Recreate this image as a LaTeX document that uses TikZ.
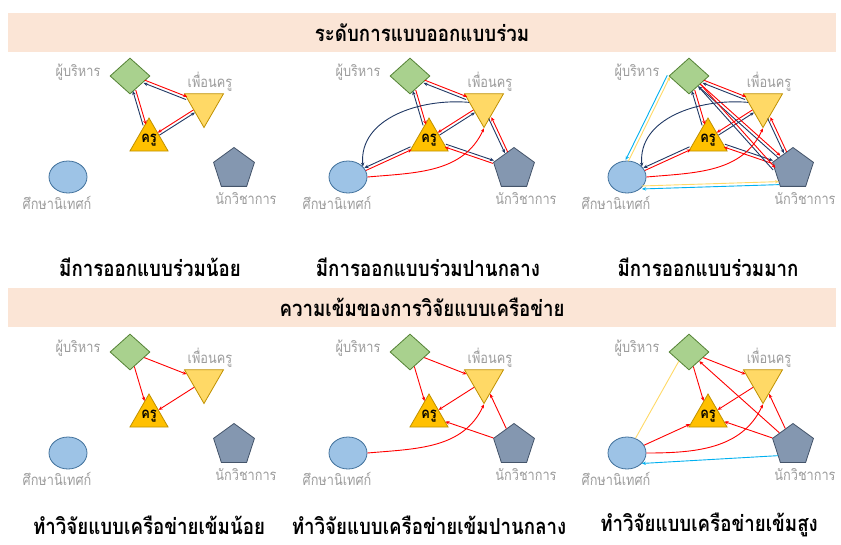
\documentclass[tikz,border=0pt]{standalone}
\usepackage{fontspec}
\newfontfamily\thaifont[Script=Thai, FakeStretch=0.85]{Loma}
\usetikzlibrary{arrows.meta, positioning, shapes.geometric, calc}

\definecolor{bandfill}{HTML}{FBE5D6}
\definecolor{adminfill}{HTML}{A9D18E}
\definecolor{adminline}{HTML}{548235}
\definecolor{peerfill}{HTML}{FFD966}
\definecolor{peerline}{HTML}{BF9000}
\definecolor{teacherfill}{HTML}{FFC000}
\definecolor{superfill}{HTML}{9DC3E6}
\definecolor{superline}{HTML}{41719C}
\definecolor{acadfill}{HTML}{8497B0}
\definecolor{acadline}{HTML}{44546A}
\definecolor{labelgray}{HTML}{9C9C9C}
\definecolor{arrowred}{HTML}{FF0000}
\definecolor{arrownavy}{HTML}{203864}
\definecolor{arrowcyan}{HTML}{00B0F0}
\definecolor{arrowgold}{HTML}{FFD966}

\tikzset{
    >=Stealth,
    net_admin/.style={
        diamond,
        draw=adminline,
        fill=adminfill,
        line width=0.8pt,
        minimum width=40pt,
        minimum height=36pt,
        inner sep=0pt
    },
    net_peer/.style={
        regular polygon,
        regular polygon sides=3,
        shape border rotate=180,
        draw=peerline,
        fill=peerfill,
        line width=0.8pt,
        minimum size=45pt,
        inner sep=0pt
    },
    net_teacher/.style={
        regular polygon,
        regular polygon sides=3,
        draw=peerline,
        fill=teacherfill,
        line width=0.8pt,
        minimum size=44pt,
        inner sep=0pt
    },
    net_super/.style={
        ellipse,
        draw=superline,
        fill=superfill,
        line width=0.8pt,
        minimum width=38pt,
        minimum height=32pt,
        inner sep=0pt
    },
    net_acad/.style={
        regular polygon,
        regular polygon sides=5,
        draw=acadline,
        fill=acadfill,
        line width=0.8pt,
        minimum size=43pt,
        inner sep=0pt
    },
    net_label/.style={
        font=\thaifont\fontsize{15}{17}\selectfont,
        text=labelgray,
        inner sep=1pt
    },
    teacher_text/.style={
        font=\thaifont\bfseries\fontsize{15}{17}\selectfont,
        inner sep=0pt
    },
    go_red/.style={
        draw=arrowred,
        line width=0.9pt,
        -{Stealth[length=4pt, width=3.5pt]}
    },
    back_navy/.style={
        draw=arrownavy,
        line width=0.9pt,
        -{Stealth[length=4pt, width=3.5pt]}
    },
    link_cyan/.style={
        draw=arrowcyan,
        line width=0.9pt,
        -{Stealth[length=4pt, width=3.5pt]}
    },
    link_gold/.style={
        draw=arrowgold,
        line width=0.9pt,
        -{Stealth[length=4pt, width=3.5pt]}
    },
    plain_gold/.style={
        draw=arrowgold,
        line width=0.9pt
    },
    head_band/.style={
        rectangle,
        fill=bandfill,
        minimum width=828pt,
        minimum height=39pt,
        font=\thaifont\bfseries\fontsize{22}{24}\selectfont
    },
    caption_text/.style={
        font=\thaifont\bfseries\fontsize{22}{24}\selectfont
    }
}

% five actors of one panel: prefix, x offset, y offset
\newcommand{\netnodes}[3]{
    \begin{scope}[shift={(#2,#3)}]
        \node[net_admin] (#1Admin) at (130,-76) {};
        \node[net_peer] (#1Peer) at (204,-105) {};
        \node[net_teacher] (#1Teacher) at (149,-140) {};
        \node[teacher_text] (#1TeacherTxt) at (#1Teacher) {ครู};
        \node[net_super] (#1Super) at (68,-177) {};
        \node[net_acad] (#1Acad) at (234,-169) {};
        \node[net_label, left=8pt of #1Admin, yshift=4pt] (#1AdminTxt) {ผู้บริหาร};
        \node[net_label, above=1pt of #1Peer, xshift=6pt] (#1PeerTxt) {เพื่อนครู};
        \node[net_label, below=2pt of #1Super, xshift=-11pt] (#1SuperTxt) {ศึกษานิเทศก์};
        \node[net_label, below=4pt of #1Acad, xshift=12pt] (#1AcadTxt) {นักวิชาการ};
    \end{scope}
}

% two parallel links: from, to, style there, style back, offset there, offset back
\newcommand{\twoway}[6]{
    \draw[#3, transform canvas={shift={($(#1)!#5!90:(#2)-(#1)$)}}] (#1) -- (#2);
    \draw[#4, transform canvas={shift={($(#1)!#6!90:(#2)-(#1)$)}}] (#2) -- (#1);
}

\begin{document}
\begin{tikzpicture}[x=1pt, y=1pt]
\useasboundingbox (0,0) rectangle (841,-544);

% --- Headers ---
\node[head_band] (topBand) at (422,-32.5) {ระดับการแบบออกแบบร่วม};
\node[head_band] (lowBand) at (422,-307.5) {ความเข้มของการวิจัยแบบเครือข่าย};

% --- Panels ---
\netnodes{a}{0}{0}
\netnodes{b}{280}{0}
\netnodes{c}{559}{0}
\netnodes{d}{0}{-276}
\netnodes{e}{280}{-276}
\netnodes{f}{559}{-276}

% --- Captions ---
\node[caption_text] (capA) at (150,-267) {มีการออกแบบร่วมน้อย};
\node[caption_text] (capB) at (428,-267) {มีการออกแบบร่วมปานกลาง};
\node[caption_text] (capC) at (708,-267) {มีการออกแบบร่วมมาก};
\node[caption_text] (capD) at (149,-525) {ทำวิจัยแบบเครือข่ายเข้มน้อย};
\node[caption_text] (capE) at (429,-525) {ทำวิจัยแบบเครือข่ายเข้มปานกลาง};
\node[caption_text] (capF) at (709,-525) {ทำวิจัยแบบเครือข่ายเข้มสูง};

% --- Co-design: little ---
\twoway{aAdmin}{aPeer}{go_red}{back_navy}{1.5pt}{-1.5pt}
\twoway{aAdmin}{aTeacher}{go_red}{back_navy}{1.5pt}{-1.5pt}
\twoway{aPeer}{aTeacher}{go_red}{back_navy}{-1.5pt}{1.5pt}

% --- Co-design: medium ---
\twoway{bAdmin}{bPeer}{go_red}{back_navy}{1.5pt}{-1.5pt}
\twoway{bAdmin}{bTeacher}{go_red}{back_navy}{1.5pt}{-1.5pt}
\twoway{bPeer}{bTeacher}{go_red}{back_navy}{-1.5pt}{1.5pt}
\twoway{bPeer}{bAcad}{back_navy}{go_red}{-1.5pt}{1.5pt}
\twoway{bTeacher}{bAcad}{back_navy}{go_red}{1.5pt}{-1.5pt}
\twoway{bTeacher}{bSuper}{back_navy}{go_red}{-1.5pt}{1.5pt}
\draw[back_navy] (bPeer.170) to[out=175, in=95] (bSuper.35);
\draw[go_red] (bSuper.east) to[out=5, in=-115] (bPeer.south);

% --- Co-design: much ---
\twoway{cAdmin}{cPeer}{go_red}{back_navy}{1.5pt}{-1.5pt}
\twoway{cAdmin}{cTeacher}{go_red}{back_navy}{1.5pt}{-1.5pt}
\twoway{cPeer}{cTeacher}{go_red}{back_navy}{-1.5pt}{1.5pt}
\twoway{cPeer}{cAcad}{back_navy}{go_red}{-1.5pt}{1.5pt}
\twoway{cTeacher}{cAcad}{back_navy}{go_red}{1.5pt}{-1.5pt}
\twoway{cTeacher}{cSuper}{back_navy}{go_red}{-1.5pt}{1.5pt}
\twoway{cAdmin}{cAcad}{go_red}{back_navy}{1.5pt}{-1.5pt}
\twoway{cAdmin.south east}{cAcad.west}{go_red}{back_navy}{1.5pt}{-1.5pt}
\twoway{cAdmin.west}{cSuper.north}{link_cyan}{link_gold}{-1.5pt}{1.5pt}
\twoway{cSuper.-35}{cAcad.225}{link_gold}{link_cyan}{1.5pt}{-1.5pt}
\draw[back_navy] (cPeer.170) to[out=175, in=95] (cSuper.35);
\draw[go_red] (cSuper.east) to[out=5, in=-115] (cPeer.south);

% --- Network research: low ---
\draw[go_red] (dAdmin) -- (dPeer);
\draw[go_red] (dAdmin) -- (dTeacher);
\draw[go_red] (dPeer) -- (dTeacher);

% --- Network research: medium ---
\draw[go_red] (eAdmin) -- (ePeer);
\draw[go_red] (eAdmin) -- (eTeacher);
\draw[go_red] (ePeer) -- (eTeacher);
\draw[go_red] (eAcad) -- (ePeer);
\draw[go_red] (eAcad) -- (eTeacher);
\draw[go_red] (eSuper.east) to[out=5, in=-115] (ePeer.south);

% --- Network research: high ---
\draw[go_red] (fAdmin) -- (fPeer);
\draw[go_red] (fAdmin) -- (fTeacher);
\draw[go_red] (fPeer) -- (fTeacher);
\draw[go_red] (fAcad) -- (fPeer);
\draw[go_red] (fAcad) -- (fTeacher);
\draw[go_red] (fAcad) -- (fAdmin);
\draw[go_red] (fSuper) -- (fTeacher);
\draw[go_red] (fSuper.east) to[out=0, in=-115] (fPeer.south);
\draw[plain_gold] (fAdmin.south west) -- (fSuper.60);
\draw[link_cyan] (fAcad.215) -- (fSuper.-35);

\end{tikzpicture}
\end{document}
